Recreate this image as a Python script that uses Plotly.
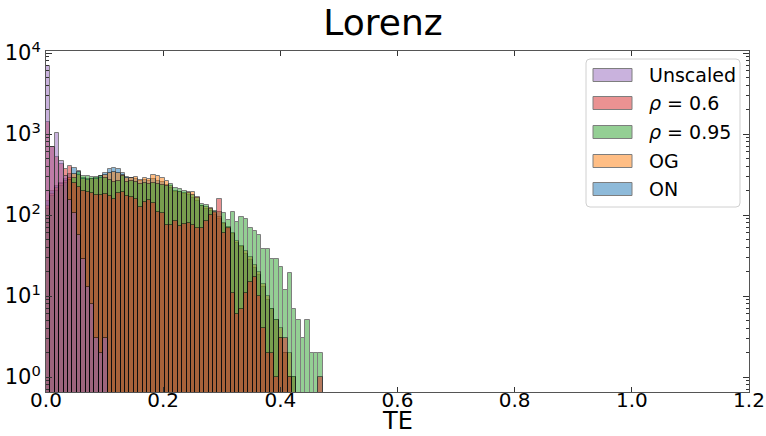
import plotly.graph_objects as go

# ---------------- data (histogram counts, shared bins) ----------------
bin_width = 0.0075
series_names = ["Unscaled", "<i>ρ</i> = 0.6", "<i>ρ</i> = 0.95", "OG", "ON"]

unscaled = [7000, 700, 1040, 470, 300, 153, 106, 57, 29, 13, 8, 3, 2, 3]

rho06 = [1420, 700, 520, 430, 370, 400, 250, 220, 200, 190, 185, 175, 178, 180,
         170, 158, 188, 194, 173, 168, 156, 124, 146, 153, 139, 110, 105, 75,
         75, 85, 73, 77, 80, 75, 69, 69, 85, 100, 110, 156, 60, 69, 11, 6,
         7, 11, 15, 17, 10, 4, 2, 2, 1, 3, 3, 1, 0, 0, 0, 0, 0, 0, 1]

rho095 = [120, 170, 200, 230, 250, 270, 290, 340, 300, 300, 295, 295, 300, 290,
          270, 255, 265, 300, 255, 260, 255, 240, 250, 245, 250, 240, 235, 225,
          240, 213, 207, 197, 185, 175, 163, 137, 133, 118, 112, 108, 105, 87,
          109, 83, 95, 90, 70, 64, 57, 38, 38, 29, 29, 23, 12, 19, 7, 5,
          3, 5, 2, 2, 2]

og = [130, 180, 215, 240, 265, 290, 320, 310, 280, 270, 275, 280, 290, 310,
      330, 340, 330, 310, 290, 290, 297, 270, 290, 277, 310, 300, 290, 265,
      225, 200, 195, 185, 194, 194, 168, 130, 125, 122, 105, 95, 80, 72,
      60, 48, 42, 36, 30, 24, 20, 14, 10, 7, 5, 4, 2, 2, 1, 0,
      0, 0, 0, 0, 0]

on = [150, 200, 230, 250, 280, 320, 380, 350, 285, 275, 280, 285, 300, 330,
      370, 377, 366, 333, 297, 285, 280, 265, 270, 262, 275, 265, 255, 235,
      215, 195, 190, 180, 175, 160, 150, 128, 120, 112, 100, 90, 78, 68,
      58, 45, 40, 33, 28, 22, 18, 13, 9, 7, 5, 3, 2, 1, 1, 0,
      0, 0, 0, 0, 0]

x_ticks = [0.0, 0.2, 0.4, 0.6, 0.8, 1.0, 1.2]
y_ticks = [1, 10, 100, 1000, 10000]
y_tick_text = ["10<sup>0</sup>", "10<sup>1</sup>", "10<sup>2</sup>", "10<sup>3</sup>", "10<sup>4</sup>"]

colors = {"Unscaled": "#9467bd", "<i>ρ</i> = 0.6": "#d62728", "<i>ρ</i> = 0.95": "#2ca02c",
          "OG": "#ff7f0e", "ON": "#1f77b4"}
values = {"Unscaled": unscaled, "<i>ρ</i> = 0.6": rho06, "<i>ρ</i> = 0.95": rho095,
          "OG": og, "ON": on}

# ---------------- figure ----------------
W, H = 766, 436
ML, MR, MT, MB = 46, 17, 51, 44
PW, PH = W - ML - MR, H - MT - MB
FONT = "DejaVu Sans"


def px_x(px):
    return (px - ML) / PW


def px_y(py):
    return (H - MB - py) / PH


fig = go.Figure()
# draw order: ON first ... Unscaled last (on top)
for name in reversed(series_names):
    vals = values[name]
    xs = [(i + 0.5) * bin_width for i in range(len(vals))]
    ys = [v if v > 0 else None for v in vals]
    fig.add_trace(go.Bar(
        x=xs, y=ys, width=bin_width, name=name, showlegend=False,
        marker=dict(color=colors[name], line=dict(color="black", width=1)),
        opacity=0.5,
    ))

minor_vals = [k * 10 ** d for d in range(-1, 4) for k in range(2, 10)]

fig.update_layout(
    width=W, height=H,
    margin=dict(l=ML, r=MR, t=MT, b=MB, autoexpand=False),
    paper_bgcolor="white", plot_bgcolor="white",
    barmode="overlay", bargap=0,
    font=dict(family=FONT, color="black"),
    title=dict(text="Lorenz", x=0.5, xref="container", xanchor="center",
               y=1 - 22 / H, yref="container", yanchor="middle",
               font=dict(size=36, family=FONT, color="black")),
    xaxis=dict(range=[0, 1.2], tickvals=x_ticks, tickformat=".1f", automargin=False,
               ticks="inside", ticklen=5, tickcolor="#333", showgrid=False,
               zeroline=False, showline=True, linecolor="#555", linewidth=1,
               mirror="ticks", tickfont=dict(size=20, family=FONT),
               ticklabelstandoff=-10),
    yaxis=dict(type="log", range=[-0.185, 4.025], tickvals=y_ticks, ticktext=y_tick_text,
               automargin=False,
               ticks="inside", ticklen=6, tickcolor="#333", showgrid=False,
               zeroline=False, showline=True, linecolor="#555", linewidth=1,
               mirror="ticks", tickfont=dict(size=21, family=FONT),
               minor=dict(tickvals=minor_vals, ticks="inside", ticklen=3,
                          tickcolor="#333", showgrid=False)),
)

# x-axis label
fig.add_annotation(text="TE", x=0.5, xref="paper", y=px_y(421), yref="paper",
                   xanchor="center", yanchor="middle", showarrow=False,
                   font=dict(size=24, family=FONT, color="black"))

# custom legend (matplotlib-like)
lx0, lx1, ly0, ly1 = 586, 740, 59, 207
r = 4
x0, x1, y0, y1 = px_x(lx0), px_x(lx1), px_y(ly1), px_y(ly0)
rx, ry = r / PW, r / PH
path = (f"M {x0+rx},{y0} L {x1-rx},{y0} Q {x1},{y0} {x1},{y0+ry} "
        f"L {x1},{y1-ry} Q {x1},{y1} {x1-rx},{y1} L {x0+rx},{y1} "
        f"Q {x0},{y1} {x0},{y1-ry} L {x0},{y0+ry} Q {x0},{y0} {x0+rx},{y0} Z")
fig.add_shape(type="path", path=path, xref="paper", yref="paper",
              fillcolor="rgba(255,255,255,0.8)", line=dict(color="#d0d0d0", width=1))

row_centers = [75, 103, 132, 161, 189]
for name, cy in zip(series_names, row_centers):
    fig.add_shape(type="rect", xref="paper", yref="paper",
                  x0=px_x(593), x1=px_x(632), y0=px_y(cy + 6.5), y1=px_y(cy - 6.5),
                  fillcolor=colors[name], opacity=0.5,
                  line=dict(color="black", width=1))
    fig.add_annotation(text=name, x=px_x(647), xref="paper", y=px_y(cy), yref="paper",
                       xanchor="left", yanchor="middle", showarrow=False,
                       font=dict(size=19, family=FONT, color="black"))

fig.write_html("out.html")
